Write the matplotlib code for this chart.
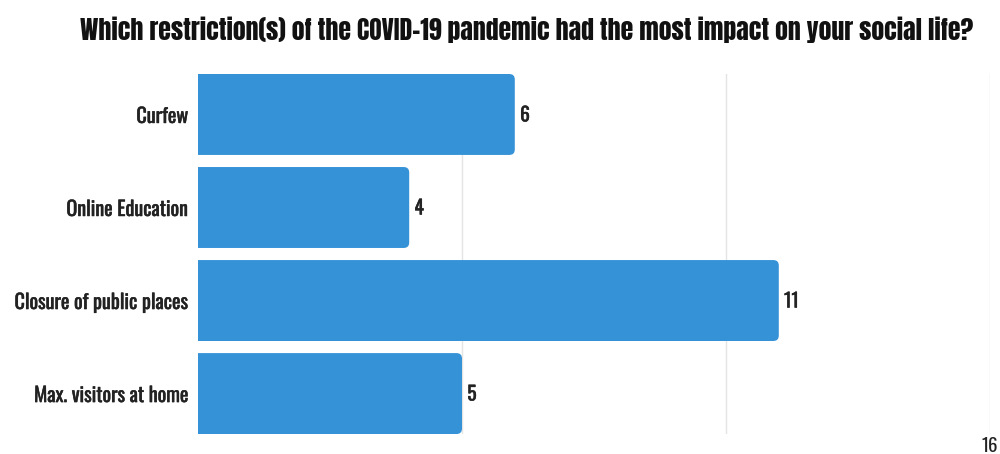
import matplotlib
matplotlib.use("Agg")
import matplotlib.pyplot as plt
from matplotlib.patches import FancyBboxPatch
import matplotlib.patheffects as pe

categories = ["Curfew", "Online Education", "Closure of public places", "Max. visitors at home"]
values = [6, 4, 11, 5]
axis_max_label = "16"
title = "Which restriction(s) of the COVID-19 pandemic had the most impact on your social life?"

BAR_COLOR = "#3592d7"
LABEL_FONT = ["Oswald", "Roboto Condensed", "DejaVu Sans"]
TITLE_FONT = ["Anton", "Oswald", "DejaVu Sans"]
TXT = "#222222"
bold_fx = [pe.withStroke(linewidth=0.35, foreground=TXT)]

fig = plt.figure(figsize=(10, 4.54), dpi=100)
ax = fig.add_axes([0.198, 0.044, 0.792, 0.793])

y = list(range(len(categories)))
bars = ax.barh(y, values, height=0.87, color=BAR_COLOR)
ax.set_xlim(0, 15)
ax.set_ylim(len(categories) - 1 + 0.435, -0.435)

# rounded right corners
xpx = 792 / 15.0
ypx = 360 / 3.87
r = 5.5 / xpx
for b in bars:
    x0, y0 = b.get_x(), b.get_y()
    w, h = b.get_width(), b.get_height()
    b.set_visible(False)
    p = FancyBboxPatch((x0 - 0.3, y0), w + 0.3, h,
                       boxstyle=f"round,pad=0,rounding_size={r}",
                       mutation_aspect=xpx / ypx,
                       facecolor=BAR_COLOR, edgecolor="none", zorder=2)
    ax.add_patch(p)

for yi, v in zip(y, values):
    ax.text(v + 0.1, yi, str(v), va="center", ha="left", fontsize=14,
            family=LABEL_FONT, color=TXT, path_effects=bold_fx)

ax.set_yticks(y)
ax.set_yticklabels(categories, family=LABEL_FONT, fontsize=14.5, color=TXT)
for t in ax.get_yticklabels():
    t.set_path_effects(bold_fx)
ax.tick_params(axis="y", length=0, pad=7)
ax.set_xticks([5, 10, 15])
ax.set_xticklabels([])
ax.tick_params(axis="x", length=0)
ax.grid(axis="x", color="#e4e4e4", linewidth=1, zorder=0)
ax.set_axisbelow(True)
for s in ax.spines.values():
    s.set_visible(False)

ax.text(1.0, -0.008, axis_max_label, transform=ax.transAxes, ha="center", va="top",
        fontsize=13.5, family=LABEL_FONT, color=TXT)

fig.text(0.527, 0.935, title, ha="center", va="center", fontsize=18.5,
         family=TITLE_FONT, color="#111111")

fig.savefig("out.png", dpi=100, facecolor="white")
